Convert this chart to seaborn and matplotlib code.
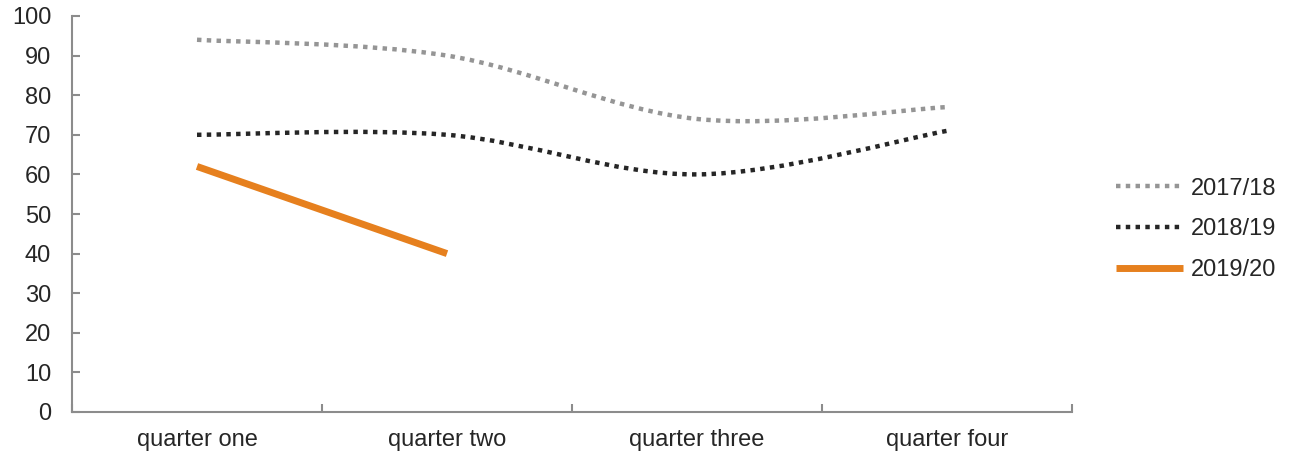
import numpy as np
import matplotlib
matplotlib.use("Agg")
import matplotlib.pyplot as plt
import seaborn as sns
from matplotlib.path import Path
from matplotlib.patches import PathPatch
from matplotlib.lines import Line2D

# data
quarters = ["quarter one", "quarter two", "quarter three", "quarter four"]
series_names = ["2017/18", "2018/19", "2019/20"]
values_1718 = [94, 90, 74, 77]
values_1819 = [70, 70, 60, 71]
values_1920 = [62, 40]

sns.set_theme(style="white")
plt.rcParams['font.family'] = ['Liberation Sans', 'DejaVu Sans']

axis_grey = "#8c8c8c"
text_col = "#262626"
fs = 17


def smooth_path(ys):
    """Excel-like smoothed line as cubic Bezier segments through the points."""
    pts = np.column_stack([np.arange(len(ys)), np.asarray(ys, float)])
    verts = [tuple(pts[0])]
    codes = [Path.MOVETO]
    n = len(pts)
    for i in range(n - 1):
        p0 = pts[max(i - 1, 0)]
        p1 = pts[i]
        p2 = pts[i + 1]
        p3 = pts[min(i + 2, n - 1)]
        c1 = p1 + (p2 - p0) / 6.0
        c2 = p2 - (p3 - p1) / 6.0
        verts += [tuple(c1), tuple(c2), tuple(p2)]
        codes += [Path.CURVE4] * 3
    return Path(verts, codes)


fig, ax = plt.subplots(figsize=(13, 4.57), dpi=100)
fig.subplots_adjust(left=72 / 1300, right=1072 / 1300, bottom=1 - 412 / 457, top=1 - 16 / 457)

styles = [
    dict(color="#959595", lw=3.2, ls=(0, (1, 1.2))),
    dict(color="#262626", lw=3.2, ls=(0, (1, 1.2))),
    dict(color="#e6801e", lw=5.0, ls="-"),
]

handles = []
for name, ys, st in zip(series_names, [values_1718, values_1819, values_1920], styles):
    patch = PathPatch(smooth_path(ys), fill=False, edgecolor=st["color"],
                      linewidth=st["lw"], linestyle=st["ls"], capstyle="butt")
    ax.add_patch(patch)
    handles.append(Line2D([], [], color=st["color"], lw=st["lw"], ls=st["ls"],
                          solid_capstyle="butt", dash_capstyle="butt", label=name))

ax.set_xlim(-0.5, 3.5)
ax.set_ylim(0, 100)
ax.set_yticks(range(0, 101, 10))
ax.set_xticks(range(len(quarters)))
ax.set_xticklabels(quarters)
ax.set_xticks(np.arange(-0.5, 3.6, 1.0), minor=True)

sns.despine(ax=ax, top=True, right=True)
for side in ["left", "bottom"]:
    ax.spines[side].set_color(axis_grey)
    ax.spines[side].set_linewidth(1.5)

ax.tick_params(axis="y", direction="in", length=6, width=1.5, color=axis_grey,
               labelsize=fs, labelcolor=text_col, pad=15, left=True)
ax.tick_params(axis="x", which="major", length=0, labelsize=fs, labelcolor=text_col, pad=12)
ax.tick_params(axis="x", which="minor", direction="in", length=6, width=1.5,
               color=axis_grey, bottom=True)

fig.legend(handles=handles, loc="center left", bbox_to_anchor=(1116 / 1300, 1 - 229.5 / 457),
           frameon=False, fontsize=fs, handlelength=2.84, labelspacing=0.8,
           handletextpad=0.34, borderpad=0, borderaxespad=0, labelcolor=text_col)

fig.savefig("out.png", dpi=100)
